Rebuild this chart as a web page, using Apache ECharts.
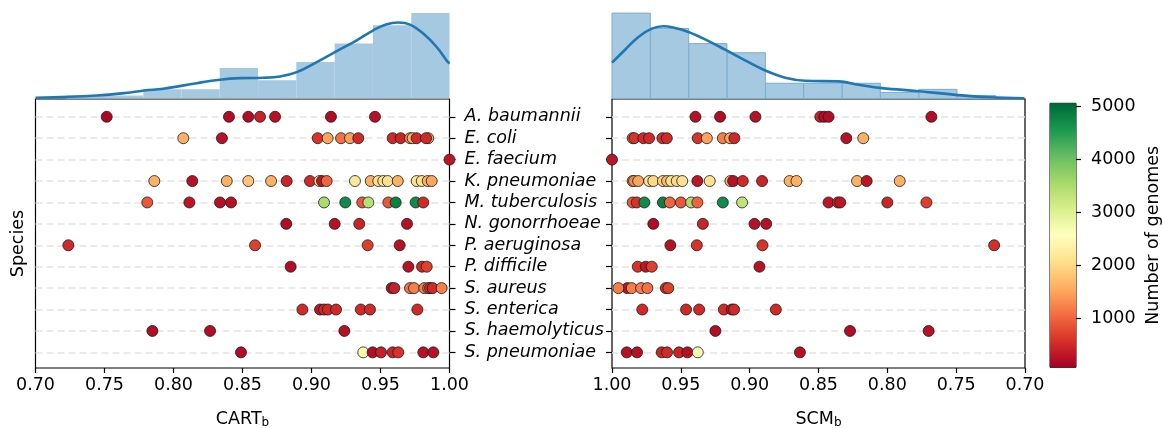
<!DOCTYPE html>
<html><head><meta charset="utf-8">
<script src="https://cdn.jsdelivr.net/npm/echarts@6/dist/echarts.min.js"></script>
<style>html,body{margin:0;padding:0;background:#fff}#c{width:1162px;height:428px}</style>
</head><body><div id="c"></div>
<script>
// ---------------- data ----------------
const species = ['A. baumannii','E. coli','E. faecium','K. pneumoniae','M. tuberculosis','N. gonorrhoeae','P. aeruginosa','P. difficile','S. aureus','S. enterica','S. haemolyticus','S. pneumoniae'];
const xTickValues = [0.70, 0.75, 0.80, 0.85, 0.90, 0.95, 1.00];
const colorbarTicks = [1000, 2000, 3000, 4000, 5000];

// CART_b : [score, number of genomes]
const cart_A_baumannii = [[0.7516,150],[0.8402,200],[0.8542,200],[0.8627,420],[0.8736,250],[0.9141,200],[0.9460,250]];
const cart_E_coli = [[0.8071,1600],[0.8351,250],[0.9045,600],[0.9117,1500],[0.9214,1100],[0.9279,1450],[0.9339,500],[0.9588,500],[0.9646,450],[0.9714,1300],[0.9733,1600],[0.9762,500],[0.9846,1500],[0.9830,500]];
const cart_E_faecium = [[1.0,300]];
const cart_K_pneumoniae = [[0.7861,1600],[0.8136,250],[0.8386,1600],[0.8542,1800],[0.8707,1600],[0.8820,450],[0.8989,500],[0.9057,2100],[0.9076,300],[0.9110,1000],[0.9315,2200],[0.9429,1600],[0.9484,2100],[0.9520,2100],[0.9552,2100],[0.9625,1600],[0.9762,2100],[0.9799,2100],[0.9842,1600],[0.9871,1500]];
const cart_M_tuberculosis = [[0.7810,900],[0.8115,300],[0.8337,250],[0.8417,250],[0.9091,3500],[0.9245,4700],[0.9368,900],[0.9412,3400],[0.9557,900],[0.9610,4800],[0.9755,4700],[0.9810,500]];
const cart_N_gonorrhoeae = [[0.8817,200],[0.9168,250],[0.9346,450],[0.9692,250]];
const cart_P_aeruginosa = [[0.7238,500],[0.8591,700],[0.9407,700],[0.9639,250]];
const cart_P_difficile = [[0.8849,200],[0.9702,250],[0.9801,500],[0.9835,700]];
const cart_S_aureus = [[0.9581,300],[0.9600,400],[0.9714,1100],[0.9743,1200],[0.9817,1200],[0.9846,1100],[0.9859,500],[0.9878,500],[0.9943,1200]];
const cart_S_enterica = [[0.8934,500],[0.9062,300],[0.9091,500],[0.9118,500],[0.9178,500],[0.9357,500],[0.9424,500],[0.9767,500]];
const cart_S_haemolyticus = [[0.7847,200],[0.8265,200],[0.9238,250]];
const cart_S_pneumoniae = [[0.8489,200],[0.9375,2700],[0.9443,200],[0.9504,400],[0.9588,450],[0.9629,600],[0.9810,250],[0.9883,250]];

// SCM_b : [score, number of genomes]
const scm_A_baumannii = [[0.9394,250],[0.9215,200],[0.8958,250],[0.8487,420],[0.8458,200],[0.8427,200],[0.7680,200]];
const scm_E_coli = [[0.9850,1100],[0.9838,600],[0.9772,500],[0.9731,500],[0.9634,550],[0.9602,500],[0.9377,600],[0.9311,1500],[0.9195,1200],[0.9142,1500],[0.9111,500],[0.8298,250],[0.8175,1600]];
const scm_E_faecium = [[1.0,300]];
const scm_K_pneumoniae = [[0.9850,1500],[0.9840,1300],[0.9810,1500],[0.9730,2100],[0.9700,2000],[0.9630,1900],[0.9600,1700],[0.9570,2100],[0.9530,2000],[0.9490,2100],[0.9380,300],[0.9290,2100],[0.9140,1600],[0.9120,250],[0.9050,500],[0.8910,450],[0.8710,1600],[0.8660,1600],[0.8220,1600],[0.8150,300],[0.7910,1600]];
const scm_M_tuberculosis = [[0.9850,900],[0.9820,600],[0.9765,4700],[0.9630,4800],[0.9580,1000],[0.9500,900],[0.9425,3500],[0.9380,1000],[0.9195,4700],[0.9055,3300],[0.8427,300],[0.8359,500],[0.8342,300],[0.8000,450],[0.7716,700]];
const scm_N_gonorrhoeae = [[0.9700,200],[0.9340,450],[0.8965,250],[0.8880,250]];
const scm_P_aeruginosa = [[0.9576,250],[0.9384,600],[0.8907,600],[0.7224,550]];
const scm_P_difficile = [[0.9813,600],[0.9755,300],[0.9711,700],[0.8929,250]];
const scm_S_aureus = [[0.9889,300],[0.9954,1200],[0.9857,1200],[0.9789,1200],[0.9743,1100],[0.9609,600],[0.9591,700]];
const scm_S_enterica = [[0.9780,500],[0.9462,500],[0.9367,500],[0.9188,500],[0.9130,300],[0.9113,500],[0.8810,500]];
const scm_S_haemolyticus = [[0.9249,200],[0.8271,200],[0.7700,250]];
const scm_S_pneumoniae = [[0.9893,250],[0.9818,250],[0.9639,450],[0.9600,500],[0.9513,450],[0.9452,250],[0.9377,2700],[0.8635,250]];

// marginal histograms (bin edges ascending, counts per bin)
const cartBinEdges = [0.7226,0.7503,0.7781,0.8058,0.8335,0.8613,0.8890,0.9168,0.9445,0.9723,1.0];
const cartBinCounts = [1,1,3,3,10,6,12,18,24,28];
const scmBinEdges = [0.7215,0.7494,0.7772,0.8051,0.8329,0.8608,0.8886,0.9165,0.9443,0.9722,1.0];
const scmBinCounts = [1,3,2,5,5,5,15,18,23,28];

// KDE curves (same scale as counts)
const cartKdeX = [0.700,0.7443,0.7685,0.7788,0.7926,0.8168,0.8337,0.8482,0.8651,0.8772,0.8893,0.9038,0.9183,0.9328,0.9448,0.9545,0.9629,0.9714,0.9810,0.9907,0.9984,1.000];
const cartKdeY = [0.23,0.99,1.97,2.63,3.19,5.03,6.15,6.68,6.81,7.24,8.65,11.94,15.56,19.08,22.37,24.34,24.9,24.24,21.28,16.88,12.17,11.5];
const scmKdeX = [1.000,0.9905,0.9808,0.9711,0.9626,0.9542,0.9445,0.9324,0.9178,0.9033,0.8887,0.8742,0.8596,0.8354,0.8208,0.8038,0.7772,0.7505,0.7258,0.7004];
const scmKdeY = [11.74,16.0,20.2,22.9,23.7,23.1,21.8,19.4,16.0,12.5,9.2,6.8,5.8,5.6,4.5,3.4,2.4,1.2,0.43,0.1];

// ---------------- build ----------------
const cartGroups = [cart_A_baumannii,cart_E_coli,cart_E_faecium,cart_K_pneumoniae,cart_M_tuberculosis,cart_N_gonorrhoeae,cart_P_aeruginosa,cart_P_difficile,cart_S_aureus,cart_S_enterica,cart_S_haemolyticus,cart_S_pneumoniae];
const scmGroups = [scm_A_baumannii,scm_E_coli,scm_E_faecium,scm_K_pneumoniae,scm_M_tuberculosis,scm_N_gonorrhoeae,scm_P_aeruginosa,scm_P_difficile,scm_S_aureus,scm_S_enterica,scm_S_haemolyticus,scm_S_pneumoniae];
const toPts = groups => groups.flatMap((g, i) => g.map(p => [p[0], i, p[1]]));
const toBins = (edges, counts) => counts.map((c, i) => [edges[i], edges[i+1], c]);
const zip = (a, b) => a.map((v, i) => [v, b[i]]);

const RdYlGn = ['#a50026','#d73027','#f46d43','#fdae61','#fee08b','#ffffbf','#d9ef8b','#a6d96a','#66bd63','#1a9850','#006837'];
const FONT = 'DejaVu Sans';
const FS = 17.5;
const histFill = '#a5c9e1';
const catTicks = species.map((s, i) => i);

const histItem = (stroke) => (params, api) => {
  const p0 = api.coord([api.value(0), 0]);
  const p1 = api.coord([api.value(1), api.value(2)]);
  return {type:'rect', shape:{x:Math.min(p0[0],p1[0]), y:p1[1], width:Math.abs(p1[0]-p0[0]), height:p0[1]-p1[1]},
    style:{fill:histFill, stroke:stroke, lineWidth: stroke ? 1 : 0}};
};

const L = 35.5, W = 414, R = 612, W2 = 413;
const scTop = 99, scH = 269;

const xScatter = (gi, inverse) => ({
  type:'value', gridIndex:gi, min:0.70, max:1.00, interval:0.05, inverse:inverse,
  axisLine:{show:false, onZero:false}, splitLine:{show:false},
  axisTick:{show:true, length:5, lineStyle:{color:'#000', width:1.2}},
  axisLabel:{fontFamily:FONT, fontSize:FS, color:'#000', margin:8, formatter:v => v.toFixed(2)},
  nameLocation:'middle', nameGap:41,
  nameTextStyle:{fontFamily:FONT, fontSize:FS, color:'#000',
    rich:{m:{fontFamily:FONT, fontSize:FS, color:'#000'}, s:{fontFamily:FONT, fontSize:12, color:'#000', verticalAlign:'bottom', padding:[8,0,0,0]}}}
});
const xHist = (gi, inverse) => ({type:'value', gridIndex:gi, min:0.70, max:1.00, inverse:inverse, show:false, axisLine:{onZero:false}});
const yHist = (gi) => ({type:'value', gridIndex:gi, min:0, max:32.3, show:false, axisLine:{onZero:false}});
const yScatter = (gi, pos, showLabels) => ({
  type:'value', gridIndex:gi, position:pos, inverse:true, min:-0.83, max:11.73,
  axisLine:{show:false, onZero:false}, splitLine:{show:false},
  axisTick:{show:true, customValues:catTicks, length:6, lineStyle:{color:'#000', width:1.2}},
  axisLabel:{show:showLabels, customValues:catTicks, formatter:v => species[Math.round(v)],
    fontFamily:FONT, fontSize:FS, fontStyle:'italic', color:'#000', margin:15}
});

const gridLines = {
  silent:true, symbol:'none', label:{show:false},
  lineStyle:{type:[7,4], color:'#e4e4e4', width:1.7},
  data: catTicks.map(i => ({yAxis:i}))
};
const G = {containLabel:false, outerBoundsMode:'none'};

const option = {
  animation:false,
  backgroundColor:'#fff',
  grid:[
    Object.assign({left:L, width:W, top:0, height:98.5, show:false}, G),
    Object.assign({left:L, width:W, top:scTop, height:scH, show:true, borderColor:'#000', borderWidth:1.2}, G),
    Object.assign({left:R, width:W2, top:0, height:98.5, show:false}, G),
    Object.assign({left:R, width:W2, top:scTop, height:scH, show:true, borderColor:'#000', borderWidth:1.2}, G),
    Object.assign({left:1050, width:26, top:103.3, height:264, show:true, borderColor:'#000', borderWidth:1}, G)
  ],
  xAxis:[
    xHist(0,false),
    Object.assign(xScatter(1,false), {name:'{m|CART}{s|b}'}),
    xHist(2,true),
    Object.assign(xScatter(3,true), {name:'{m|SCM}{s|b}'}),
    {type:'value', gridIndex:4, min:0, max:1, show:false, axisLine:{onZero:false}}
  ],
  yAxis:[
    yHist(0),
    yScatter(1,'right',true),
    yHist(2),
    yScatter(3,'left',false),
    {type:'value', gridIndex:4, position:'right', min:75, max:5050,
      axisLine:{show:false, onZero:false}, splitLine:{show:false},
      axisTick:{show:true, customValues:colorbarTicks, length:5, lineStyle:{color:'#000', width:1.2}},
      axisLabel:{customValues:colorbarTicks, formatter:v => String(Math.round(v)), fontFamily:FONT, fontSize:FS, color:'#000', margin:15},
      name:'Number of genomes', nameLocation:'middle', nameRotate:90, nameGap:68,
      nameTextStyle:{fontFamily:FONT, fontSize:FS, color:'#000'}},
    {type:'value', gridIndex:1, position:'left', inverse:true, min:-0.83, max:11.73,
      axisLine:{show:false, onZero:false}, axisTick:{show:false}, axisLabel:{show:false}, splitLine:{show:false},
      name:'Species', nameLocation:'middle', nameRotate:90, nameGap:8,
      nameTextStyle:{fontFamily:FONT, fontSize:FS, color:'#000', padding:[0,20,0,0]}}
  ],
  visualMap:{type:'continuous', show:false, min:75, max:5050, dimension:2, seriesIndex:[6,7],
    inRange:{color:RdYlGn}},
  series:[
    {type:'custom', xAxisIndex:0, yAxisIndex:0, renderItem:histItem(null), data:toBins(cartBinEdges, cartBinCounts), silent:true},
    {type:'line', xAxisIndex:0, yAxisIndex:0, data:zip(cartKdeX, cartKdeY), smooth:0.4, symbol:'none',
      lineStyle:{color:'#1f77b4', width:2.6}, z:3},
    {type:'custom', xAxisIndex:2, yAxisIndex:2, renderItem:histItem('#7eacd2'), data:toBins(scmBinEdges, scmBinCounts), silent:true},
    {type:'line', xAxisIndex:2, yAxisIndex:2, data:zip(scmKdeX, scmKdeY), smooth:0.4, symbol:'none',
      lineStyle:{color:'#1f77b4', width:2.6}, z:3},
    {type:'scatter', xAxisIndex:1, yAxisIndex:1, data:[], z:1, markLine:gridLines},
    {type:'scatter', xAxisIndex:3, yAxisIndex:3, data:[], z:1, markLine:gridLines},
    {type:'scatter', xAxisIndex:1, yAxisIndex:1, data:toPts(cartGroups), symbolSize:11, z:5,
      itemStyle:{borderColor:'#1a1a1a', borderWidth:0.8, opacity:1}},
    {type:'scatter', xAxisIndex:3, yAxisIndex:3, data:toPts(scmGroups), symbolSize:11, z:5,
      itemStyle:{borderColor:'#1a1a1a', borderWidth:0.8, opacity:1}},
    {type:'custom', xAxisIndex:4, yAxisIndex:4, data:[[0.5, 2500]], silent:true,
      renderItem:(params, api) => {
        const cs = params.coordSys;
        return {type:'rect', shape:{x:cs.x, y:cs.y, width:cs.width, height:cs.height},
          style:{fill:new echarts.graphic.LinearGradient(0,1,0,0, RdYlGn.map((c,i)=>({offset:i/(RdYlGn.length-1), color:c})))}};
      }}
  ]
};
const chart = echarts.init(document.getElementById('c'), null, {renderer:'canvas'});
chart.setOption(option);
</script></body></html>
